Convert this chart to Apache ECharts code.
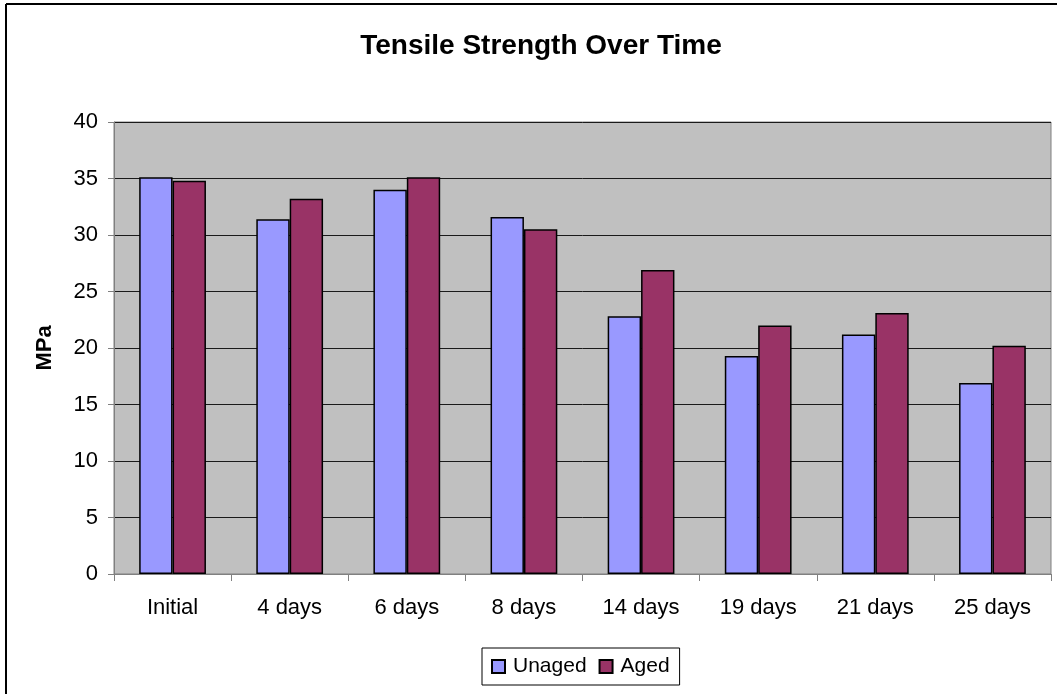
<!DOCTYPE html>
<html>
<head>
<meta charset="utf-8">
<script src="https://cdn.jsdelivr.net/npm/echarts@6/dist/echarts.min.js"></script>
<style>
  html, body { margin: 0; padding: 0; background: #fff; }
  #chart { width: 1057px; height: 694px; }
</style>
</head>
<body>
<div id="chart"></div>
<script>
// Tensile strength (MPa) at each ageing interval
const categories = ['Initial', '4 days', '6 days', '8 days', '14 days', '19 days', '21 days', '25 days'];
const unaged = [35.1, 31.4, 34.0, 31.6, 22.8, 19.3, 21.2, 16.9];
const aged = [34.8, 33.2, 35.1, 30.5, 26.9, 22.0, 23.1, 20.2];
const yTicks = { min: 0, max: 40, interval: 5 };

const FONT = '"Liberation Sans", Arial, sans-serif';

const chart = echarts.init(document.getElementById('chart'), null, { renderer: 'canvas' });

chart.setOption({
  animation: false,
  backgroundColor: '#ffffff',
  textStyle: { fontFamily: FONT, color: '#000' },
  graphic: [
    // outer chart frame (top and left edges visible)
    { type: 'line', shape: { x1: 6, y1: 4, x2: 1057, y2: 4 }, style: { stroke: '#000', lineWidth: 2 } },
    { type: 'line', shape: { x1: 6, y1: 4, x2: 6, y2: 694 }, style: { stroke: '#000', lineWidth: 2 } }
  ],
  title: {
    text: 'Tensile Strength Over Time',
    left: 536,
    textAlign: 'center',
    top: 27,
    textStyle: { fontFamily: FONT, fontSize: 28, fontWeight: 'bold', color: '#000' }
  },
  legend: {
    data: ['Unaged', 'Aged'],
    left: 482,
    top: 648,
    padding: [8, 10, 8, 9],
    itemWidth: 13,
    itemHeight: 13,
    itemGap: 12,
    borderColor: '#000',
    borderWidth: 1,
    icon: 'rect',
    textStyle: { fontFamily: FONT, fontSize: 21, color: '#000', padding: [0, 0, 0, 3] }
  },
  grid: {
    left: 114,
    top: 122,
    right: 6,
    bottom: 120,
    show: true,
    backgroundColor: '#C0C0C0',
    borderColor: '#808080',
    borderWidth: 1
  },
  xAxis: {
    type: 'category',
    data: categories,
    axisLine: { show: true, lineStyle: { color: '#808080', width: 1 } },
    axisTick: { show: true, alignWithLabel: false, length: 7, lineStyle: { color: '#808080' } },
    axisLabel: { fontFamily: FONT, fontSize: 22, color: '#000', margin: 23 }
  },
  yAxis: {
    type: 'value',
    min: yTicks.min,
    max: yTicks.max,
    interval: yTicks.interval,
    name: 'MPa',
    nameLocation: 'middle',
    nameGap: 58,
    nameTextStyle: { fontFamily: FONT, fontSize: 22, fontWeight: 'bold', color: '#000' },
    axisLine: { show: true, lineStyle: { color: '#808080', width: 1 } },
    axisTick: { show: true, length: 6, lineStyle: { color: '#808080' } },
    axisLabel: { fontFamily: FONT, fontSize: 22, color: '#000', margin: 16 },
    splitLine: { show: true, lineStyle: { color: '#1a1a1a', width: 1 } }
  },
  series: [
    {
      name: 'Unaged',
      type: 'bar',
      data: unaged,
      barGap: '0%',
      barCategoryGap: '43%',
      itemStyle: { color: '#9999FF', borderColor: '#000', borderWidth: 1.5 }
    },
    {
      name: 'Aged',
      type: 'bar',
      data: aged,
      itemStyle: { color: '#993366', borderColor: '#000', borderWidth: 1.5 }
    }
  ]
});
</script>
</body>
</html>
